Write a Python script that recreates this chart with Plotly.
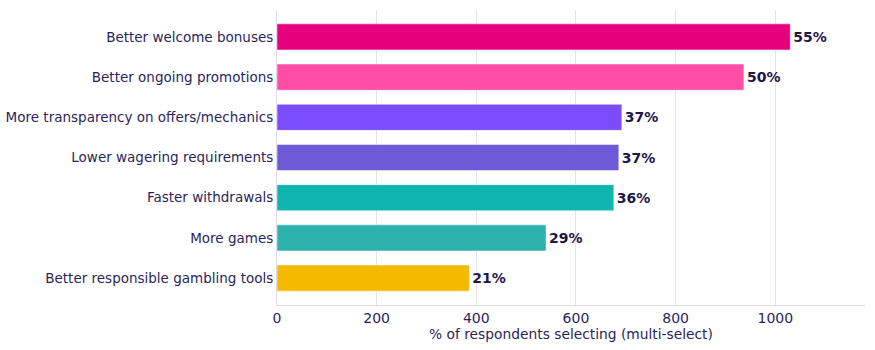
import plotly.graph_objects as go

categories = [
    "Better welcome bonuses",
    "Better ongoing promotions",
    "More transparency on offers/mechanics",
    "Lower wagering requirements",
    "Faster withdrawals",
    "More games",
    "Better responsible gambling tools",
]
counts = [1030, 937, 692, 686, 676, 540, 386]
pct_labels = ["55%", "50%", "37%", "37%", "36%", "29%", "21%"]
colors = ["#E6007E", "#FF4DA6", "#7B4DFF", "#6E5AD6", "#10B5AF", "#2DB1AD", "#F5B900"]

fig = go.Figure(
    go.Bar(
        x=counts,
        y=categories,
        orientation="h",
        marker=dict(color=colors, line=dict(color="rgba(255,255,255,0.5)", width=1)),
        text=pct_labels,
        textposition="outside",
        textfont=dict(family="DejaVu Sans", size=14, color="#1E1548", weight="bold"),
        cliponaxis=False,
    )
)

fig.update_layout(
    width=875,
    height=350,
    margin=dict(l=277, r=10, t=10, b=45),
    plot_bgcolor="white",
    paper_bgcolor="white",
    font=dict(family="DejaVu Sans", size=14, color="#2A1F5C"),
    bargap=0.35,
    showlegend=False,
)
fig.update_xaxes(
    range=[0, 1180],
    tickvals=[0, 200, 400, 600, 800, 1000],
    tickfont=dict(size=14),
    showgrid=True,
    gridcolor="#E6E1EE",
    showline=True,
    linecolor="#E0DAEA",
    zeroline=False,
    ticks="",
    automargin=False,
    title=dict(text="% of respondents selecting (multi-select)", standoff=4,
               font=dict(size=13.8)),
)
fig.update_yaxes(
    autorange=False,
    range=[6.67, -0.67],
    showline=True,
    linecolor="#E0DAEA",
    showgrid=False,
    ticks="",
    automargin=False,
    tickfont=dict(size=13.5),
)

fig.write_html("out.html")
